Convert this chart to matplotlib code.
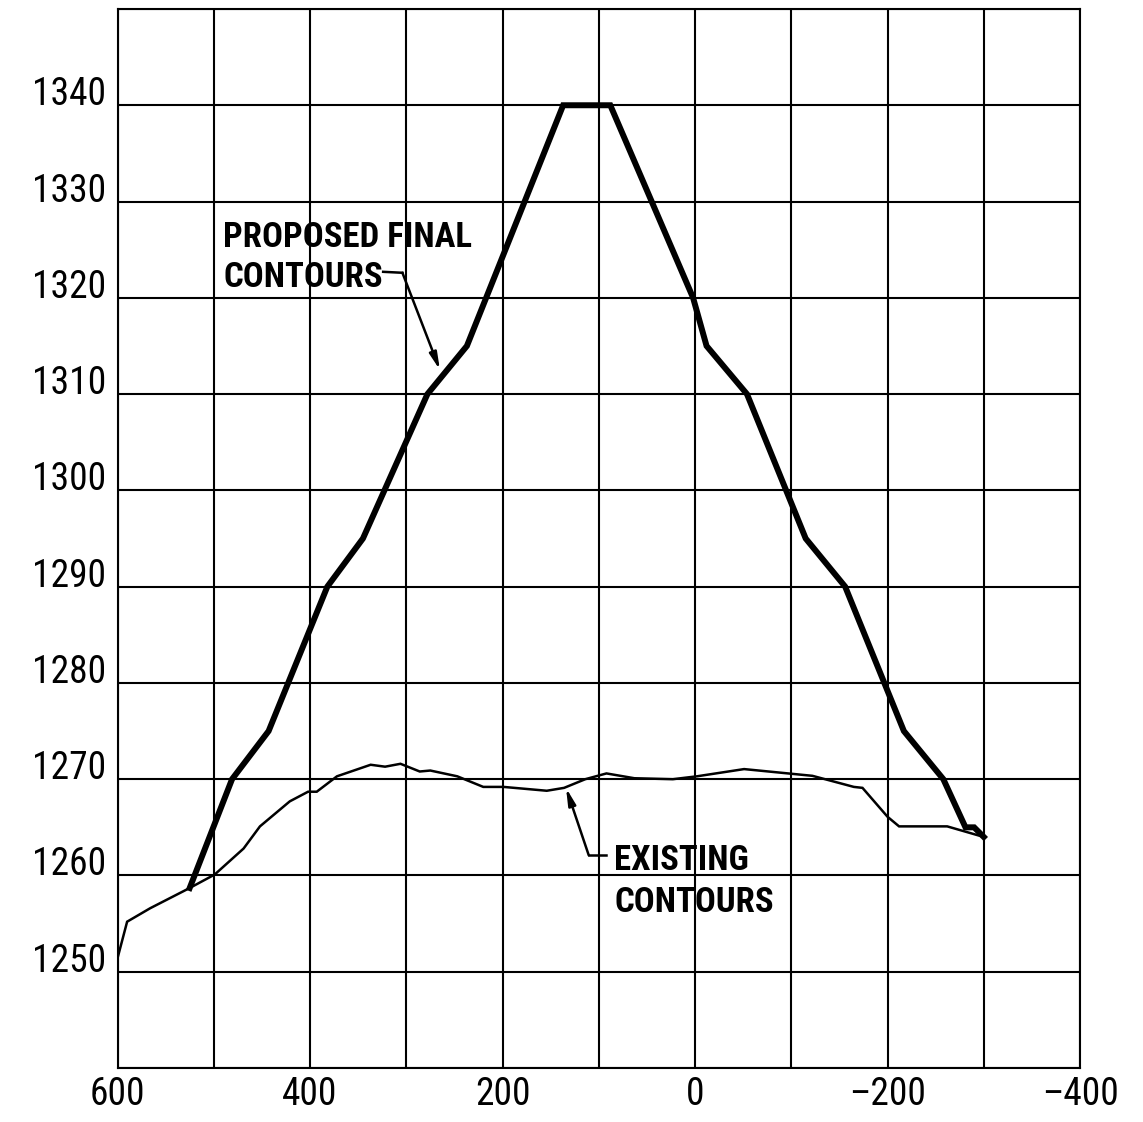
import matplotlib
matplotlib.use("Agg")
import matplotlib.pyplot as plt

# Station (ft) and elevation (ft) along the section
proposed_x = [525, 481, 443, 382, 345, 278, 237, 137, 88, 2, -12, -54, -115, -156, -217, -258, -281, -290, -300]
proposed_y = [1258.7, 1270, 1275, 1290, 1295, 1310, 1315, 1340, 1340, 1320, 1315, 1310, 1295, 1290, 1275, 1270, 1265, 1265, 1264]

existing_x = [600, 590, 566, 525, 499, 469, 452, 421, 402, 393, 372, 337, 322, 306, 286, 275, 247, 220, 199,
              154, 136, 114, 92, 63, 23, -2, -51, -122, -165, -174, -200, -212, -262, -300]
existing_y = [1251.4, 1255.2, 1256.6, 1258.7, 1260.1, 1262.8, 1265.1, 1267.7, 1268.7, 1268.7, 1270.3, 1271.5,
              1271.3, 1271.6, 1270.8, 1270.9, 1270.3, 1269.2, 1269.2, 1268.8, 1269.1, 1270.0, 1270.6, 1270.1,
              1270.0, 1270.3, 1271.05, 1270.35, 1269.2, 1269.1, 1266.1, 1265.1, 1265.1, 1264.0]

x_ticks = [600, 400, 200, 0, -200, -400]
y_ticks = [1250, 1260, 1270, 1280, 1290, 1300, 1310, 1320, 1330, 1340]

FONT = ["Roboto Condensed", "Archivo Narrow", "Sofia Sans Condensed", "Asap Condensed", "DejaVu Sans"]

fig = plt.figure(figsize=(11.43, 11.22), dpi=100)
ax = fig.add_axes([0.1028, 0.0481, 0.8421, 0.9439])

ax.set_xlim(600, -400)
ax.set_ylim(1240, 1350)

# grid every 100 ft horizontally and 10 ft vertically
for gx in range(-400, 601, 100):
    ax.axvline(gx, color="black", lw=1.5, zorder=1)
for gy in range(1240, 1351, 10):
    ax.axhline(gy, color="black", lw=1.5, zorder=1)

ax.plot(existing_x, existing_y, color="black", lw=1.8, solid_joinstyle="miter", zorder=3)
ax.plot(proposed_x, proposed_y, color="black", lw=4.3, solid_joinstyle="miter", zorder=4)

ax.set_xticks(x_ticks)
ax.set_yticks(y_ticks)
ax.set_xticklabels([f"{v}".replace("-", "\u2013") for v in x_ticks], family=FONT, fontsize=27)
ax.set_yticklabels([str(v) for v in y_ticks], family=FONT, fontsize=27)
for lab in ax.get_yticklabels():
    lab.set_verticalalignment("baseline")
ax.tick_params(axis="x", length=0, pad=6)
ax.tick_params(axis="y", length=0, pad=8)
for s in ax.spines.values():
    s.set_linewidth(1.5)

txt = dict(family=FONT, fontsize=25, fontweight="bold", ha="left", va="baseline", zorder=5)

# proposed contours callout
ax.text(490.3, 1325.3, "PROPOSED FINAL", **txt)
ax.text(490.3, 1321.1, "CONTOURS", **txt)
ax.plot([324, 304], [1322.7, 1322.6], color="black", lw=1.8, zorder=5)
ax.annotate("", xy=(265, 1312.5), xytext=(304, 1322.6),
            arrowprops=dict(arrowstyle="-|>,head_length=1.0,head_width=0.22", color="black", lw=1.8,
                            shrinkA=0, shrinkB=0), zorder=5)

# existing contours callout
ax.text(84, 1260.6, "EXISTING", **txt)
ax.text(84, 1256.2, "CONTOURS", **txt)
ax.plot([92, 110.4], [1262.1, 1262.1], color="black", lw=1.8, zorder=5)
ax.annotate("", xy=(134, 1269.1), xytext=(110.4, 1262.1),
            arrowprops=dict(arrowstyle="-|>,head_length=1.0,head_width=0.22", color="black", lw=1.8,
                            shrinkA=0, shrinkB=0), zorder=5)

fig.savefig("out.png", dpi=100)
